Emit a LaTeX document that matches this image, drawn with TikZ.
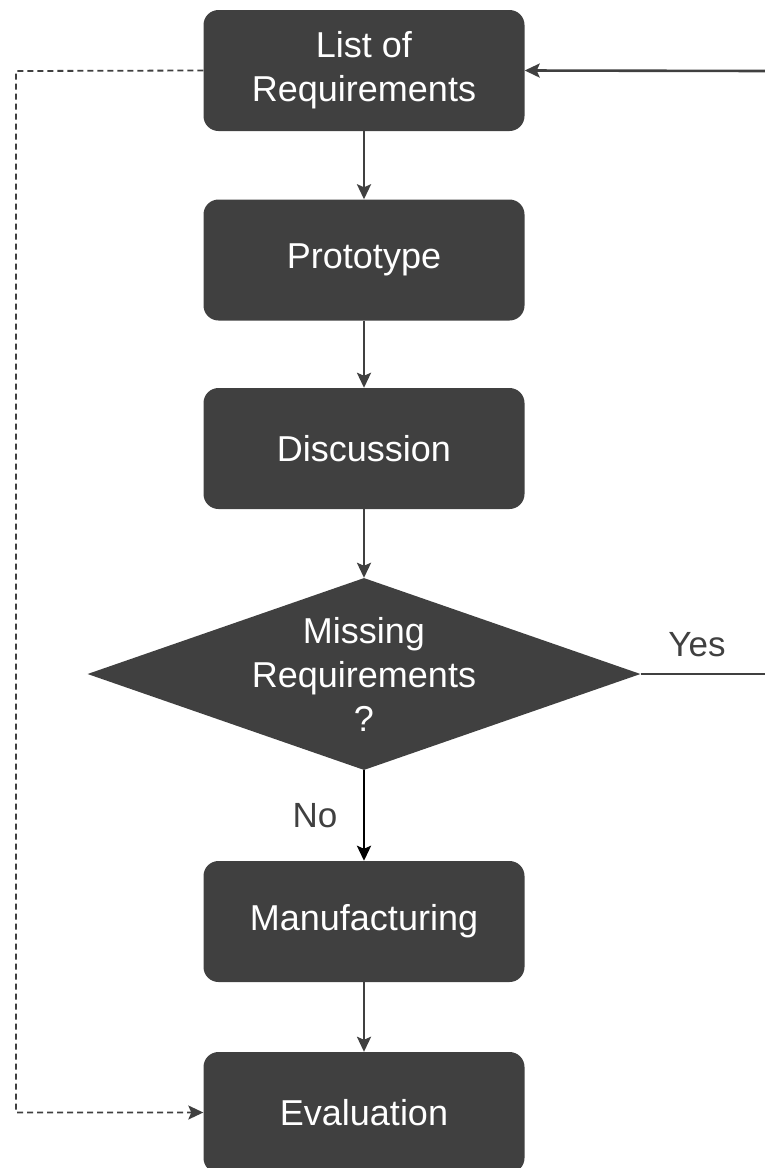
\documentclass[tikz,border=0pt]{standalone}
\usepackage{fontspec}
\setmainfont{Liberation Sans}
\usetikzlibrary{shapes.geometric,arrows.meta}
\definecolor{boxgray}{HTML}{404040}

\begin{document}
\begin{tikzpicture}[x=1pt,y=-1pt,
    block/.style={fill=boxgray,rounded corners=15pt,minimum width=321pt,minimum height=121pt,
        inner sep=0pt,text=white,align=center,font=\fontsize{36}{44}\selectfont},
    decide/.style={diamond,fill=boxgray,minimum width=553pt,minimum height=192pt,inner sep=0pt},
    flow/.style={draw=boxgray,line width=2.6pt,-{Stealth[length=15pt,width=14pt,inset=3pt]}},
    label/.style={text=boxgray,font=\fontsize{35}{42}\selectfont}]
    \useasboundingbox (0,0) rectangle (765,1168);

    % blocks
    \node[block] (req) at (364,70.5) {List of\\Requirements};
    \node[block] (proto) at (364,260) {Prototype};
    \node[block] (disc) at (364,448.5) {Discussion};
    \node[decide] (miss) at (364,674) {};
    \node[text=white,align=center,font=\fontsize{36}{44}\selectfont] (misstext) at (364,674) {Missing\\Requirements\\?};
    \node[block] (manu) at (364,921.5) {Manufacturing};
    \node[block] (eval) at (364,1112.5) {Evaluation};

    % free ends at the right edge
    \coordinate (backin) at (765,71);
    \coordinate (yesout) at (765,674);
    \coordinate (leftturn) at (16,71);

    % connectors
    \draw[flow] (req) -- (proto);
    \draw[flow] (proto) -- (disc);
    \draw[flow] (disc) -- (miss);
    \draw[flow,draw=black,line width=2.8pt] (miss) -- node[label,left=22pt] (no) {No} (manu);
    \draw[flow] (manu) -- (eval);
    \draw[boxgray,line width=2.6pt] (miss.east) -- (yesout);
    \node[label] (yes) at (697,645) {Yes};
    \draw[flow] (backin) -- (req.east);
    \draw[flow,line width=1.8pt,dash pattern=on 6pt off 4pt] (req.west) -- (leftturn) |- (eval.west);
\end{tikzpicture}
\end{document}
